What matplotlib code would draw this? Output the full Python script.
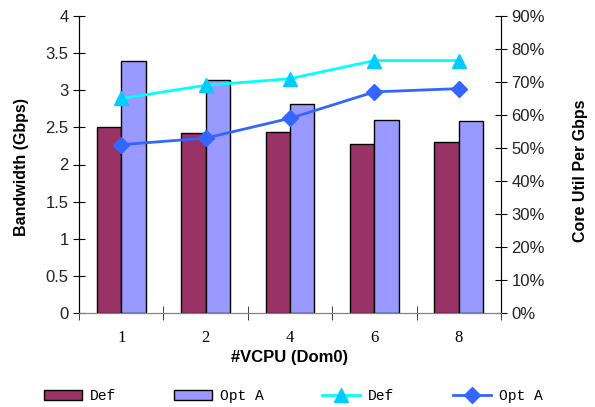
import numpy as np
import matplotlib
matplotlib.use("Agg")
import matplotlib.pyplot as plt
from matplotlib.ticker import FixedLocator, PercentFormatter

categories = ["1", "2", "4", "6", "8"]
bw_def = [2.51, 2.43, 2.44, 2.27, 2.30]
bw_opt = [3.39, 3.14, 2.81, 2.60, 2.58]
util_def = [65, 69, 71, 76.5, 76.5]
util_opt = [51, 53, 59, 67, 68]

fig = plt.figure(figsize=(5.95, 4.07), dpi=100)
ax = fig.add_axes([79 / 595, 1 - 313 / 407, (501 - 79) / 595, (313 - 16) / 407])
ax2 = ax.twinx()

x = np.arange(len(categories))
w = 0.29
b1 = ax.bar(x - w / 2, bw_def, w, color="#993366", edgecolor="black", lw=1, label="Def")
b2 = ax.bar(x + w / 2, bw_opt, w, color="#9999FF", edgecolor="black", lw=1, label="Opt A")

l1, = ax2.plot(x, util_def, color="#00FFFF", lw=2, marker="^", ms=10,
               mfc="#00CCFF", mec="#00CCFF", label="Def")
l2, = ax2.plot(x, util_opt, color="#3366FF", lw=2, marker="D", ms=8,
               mfc="#3366FF", mec="#3366FF", label="Opt A")

ax.set_xlim(-0.5, len(categories) - 0.5)
ax.set_ylim(0, 4)
ax2.set_ylim(0, 90)
ax.set_yticks(np.arange(0, 4.01, 0.5))
ax.set_yticklabels(["0", "0.5", "1", "1.5", "2", "2.5", "3", "3.5", "4"])
ax2.set_yticks(np.arange(0, 91, 10))
ax2.yaxis.set_major_formatter(PercentFormatter(decimals=0))

ax.set_xticks(x)
ax.set_xticklabels(categories, family="Liberation Serif", fontsize=12)
ax.xaxis.set_minor_locator(FixedLocator(np.arange(-0.5, len(categories), 1.0)))
ax.tick_params(axis="x", which="major", length=0, pad=12)
ax.tick_params(axis="x", which="minor", direction="inout", length=10, color="#222222")

for a in (ax, ax2):
    a.spines["top"].set_visible(False)
    a.spines["bottom"].set_color("#808080")
    a.spines["left"].set_color("black")
    a.spines["right"].set_color("black")
ax.tick_params(axis="y", direction="inout", length=9, labelsize=12,
               labelfontfamily="Liberation Sans", pad=3, labelcolor="#222222")
ax2.tick_params(axis="y", direction="inout", length=9, labelsize=12,
                labelfontfamily="Liberation Sans", pad=3, labelcolor="#222222")

ax.set_ylabel("Bandwidth (Gbps)", family="Liberation Sans", fontweight="bold", fontsize=11.5)
ax2.set_ylabel("Core Util Per Gbps", family="Liberation Sans", fontweight="bold", fontsize=11.5)
ax.yaxis.set_label_coords(-0.118, 0.49)
ax2.yaxis.set_label_coords(1.17, 0.48)
ax.set_xlabel("#VCPU (Dom0)", family="Liberation Sans", fontweight="bold", fontsize=12, labelpad=3)

fig.legend([b1, b2, l1, l2], ["Def", "Opt A", "Def", "Opt A"], ncol=4, frameon=False,
           loc="center", bbox_to_anchor=(293 / 595, 1 - 396 / 407), handlelength=2.6,
           columnspacing=4.0, handletextpad=0.55,
           prop={"family": "Liberation Mono", "size": 10.5})

fig.savefig("out.png", dpi=100)
